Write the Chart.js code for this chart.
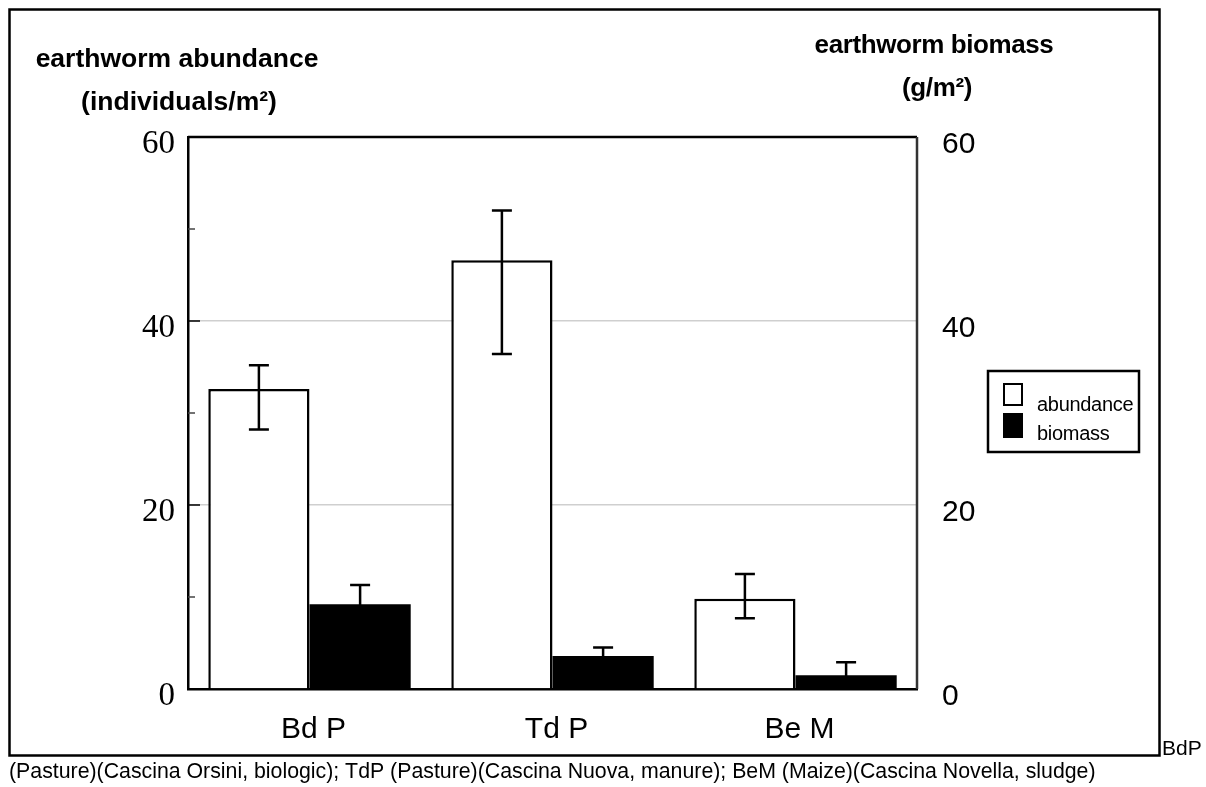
<!DOCTYPE html>
<html>
<head>
<meta charset="utf-8">
<script src="https://cdn.jsdelivr.net/npm/chart.js@4"></script>
<style>
  body { margin: 0; background: #fff; }
  #chart { display: block; }
</style>
</head>
<body>
<canvas id="chart" width="1206" height="787"></canvas>
<script>
// sites
const categories = ["Bd P", "Td P", "Be M"];

// abundance (individuals/m2), left axis
const abundance = [32.6, 46.6, 9.8];
const abundanceErrLow = [28.2, 36.4, 7.7];
const abundanceErrHigh = [35.2, 52.0, 12.5];

// biomass (g/m2), right axis
const biomass = [9.2, 3.6, 1.5];
const biomassErrLow = [7.1, 2.7, 0.1];
const biomassErrHigh = [11.3, 4.5, 2.9];

// axis ticks
const majorTicks = [0, 20, 40, 60];
const minorTicks = [10, 30, 50];
const gridValues = [20, 40];

const errors = [
  { low: abundanceErrLow, high: abundanceErrHigh },
  { low: biomassErrLow, high: biomassErrHigh },
];

const decorPlugin = {
  id: "decor",
  beforeDraw(chart) {
    const ctx = chart.ctx;
    ctx.save();
    ctx.fillStyle = "#fff";
    ctx.fillRect(0, 0, chart.width, chart.height);
    ctx.restore();
  },
  afterDatasetsDraw(chart) {
    const ctx = chart.ctx;
    ctx.save();
    ctx.strokeStyle = "#000";
    ctx.lineWidth = 2.5;
    chart.data.datasets.forEach((ds, i) => {
      const meta = chart.getDatasetMeta(i);
      const scale = chart.scales[ds.yAxisID];
      meta.data.forEach((bar, j) => {
        const x = bar.x;
        const yLo = scale.getPixelForValue(errors[i].low[j]);
        const yHi = scale.getPixelForValue(errors[i].high[j]);
        ctx.beginPath();
        ctx.moveTo(x, yLo);
        ctx.lineTo(x, yHi);
        ctx.moveTo(x - 10, yHi);
        ctx.lineTo(x + 10, yHi);
        ctx.moveTo(x - 10, yLo);
        ctx.lineTo(x + 10, yLo);
        ctx.stroke();
      });
    });
    ctx.restore();
  },
  afterDraw(chart) {
    const ctx = chart.ctx;
    const area = chart.chartArea;
    const y = chart.scales.y;
    ctx.save();

    // plot frame top + right
    ctx.strokeStyle = "#000";
    ctx.lineWidth = 2.5;
    ctx.beginPath();
    ctx.moveTo(area.left, area.top);
    ctx.lineTo(area.right, area.top);
    ctx.stroke();
    ctx.strokeStyle = "#333";
    ctx.beginPath();
    ctx.moveTo(area.right, area.top);
    ctx.lineTo(area.right, area.bottom);
    ctx.stroke();

    // inward ticks on left axis
    ctx.strokeStyle = "#000";
    ctx.lineWidth = 1.5;
    majorTicks.forEach(v => {
      const py = y.getPixelForValue(v);
      ctx.beginPath();
      ctx.moveTo(area.left, py);
      ctx.lineTo(area.left + 12, py);
      ctx.stroke();
    });
    ctx.strokeStyle = "#444";
    minorTicks.forEach(v => {
      const py = y.getPixelForValue(v);
      ctx.beginPath();
      ctx.moveTo(area.left, py);
      ctx.lineTo(area.left + 7, py);
      ctx.stroke();
    });

    // axis titles
    ctx.fillStyle = "#000";
    ctx.textAlign = "center";
    ctx.textBaseline = "alphabetic";
    ctx.font = "bold 26.5px Arial, 'Liberation Sans'";
    ctx.letterSpacing = "0px";
    ctx.fillText("earthworm abundance", 177, 67);
    ctx.fillText("(individuals/m\u00b2)", 179, 110);
    ctx.font = "bold 26px Arial, 'Liberation Sans'";
    ctx.letterSpacing = "-0.4px";
    ctx.fillText("earthworm biomass", 934, 53);
    ctx.fillText("(g/m\u00b2)", 937, 96);
    ctx.letterSpacing = "0px";

    // legend
    ctx.lineWidth = 2.5;
    ctx.strokeStyle = "#000";
    ctx.strokeRect(988, 371, 151, 81);
    ctx.fillStyle = "#fff";
    ctx.fillRect(1004, 384, 18, 21);
    ctx.lineWidth = 2;
    ctx.strokeRect(1004, 384, 18, 21);
    ctx.fillStyle = "#000";
    ctx.fillRect(1003, 413, 20, 25);
    ctx.textAlign = "left";
    ctx.font = "20px Arial, 'Liberation Sans'";
    ctx.letterSpacing = "-0.3px";
    ctx.fillText(chart.data.datasets[0].label, 1037, 411);
    ctx.fillText(chart.data.datasets[1].label, 1037, 440);
    ctx.letterSpacing = "0px";

    // outer frame
    ctx.lineWidth = 2.5;
    ctx.strokeRect(9.5, 9.5, 1150, 746);

    // caption
    ctx.font = "21px Arial, 'Liberation Sans'";
    ctx.fillText("BdP", 1162, 755);
    ctx.font = "21.3px Arial, 'Liberation Sans'";
    ctx.fillText("(Pasture)(Cascina Orsini, biologic); TdP (Pasture)(Cascina Nuova, manure); BeM (Maize)(Cascina Novella, sludge)", 9, 778);

    ctx.restore();
  },
};

const chart = new Chart(document.getElementById("chart"), {
  type: "bar",
  data: {
    labels: categories,
    datasets: [
      {
        label: "abundance",
        data: abundance,
        yAxisID: "y",
        backgroundColor: "#fff",
        borderColor: "#000",
        borderWidth: 2.5,
        barPercentage: 1.0,
        categoryPercentage: 0.833,
      },
      {
        label: "biomass",
        data: biomass,
        yAxisID: "y2",
        backgroundColor: "#000",
        borderColor: "#000",
        borderWidth: 0,
        barPercentage: 1.0,
        categoryPercentage: 0.833,
      },
    ],
  },
  options: {
    responsive: false,
    animation: false,
    devicePixelRatio: 1,
    layout: {
      padding: { top: 137, left: 0, right: 0, bottom: 0 },
    },
    plugins: {
      legend: { display: false },
      tooltip: { enabled: false },
    },
    scales: {
      x: {
        grid: { display: false, drawTicks: false },
        border: { color: "#000", width: 2.5 },
        ticks: {
          color: "#000",
          padding: 23,
          labelOffset: 4,
          font: { family: "Arial, 'Liberation Sans'", size: 30 },
        },
        afterFit: (scale) => { scale.height = 98; },
      },
      y: {
        position: "left",
        min: 0,
        max: 60,
        grid: {
          drawTicks: false,
          lineWidth: 1.5,
          color: (c) => gridValues.includes(c.tick.value) ? "#cfcfcf" : "rgba(0,0,0,0)",
        },
        border: { color: "#000", width: 2.5 },
        ticks: {
          stepSize: 20,
          color: "#000",
          padding: 13,
          labelOffset: 7,
          font: { family: "'Times New Roman', 'Liberation Serif', serif", size: 33 },
        },
        afterFit: (scale) => { scale.width = 188; },
      },
      y2: {
        position: "right",
        min: 0,
        max: 60,
        grid: { display: false, drawTicks: false },
        border: { display: false },
        ticks: {
          stepSize: 20,
          color: "#000",
          padding: 25,
          labelOffset: 8,
          font: { family: "Arial, 'Liberation Sans'", size: 30 },
        },
        afterFit: (scale) => { scale.width = 289; },
      },
    },
  },
  plugins: [decorPlugin],
});
</script>
</body>
</html>
